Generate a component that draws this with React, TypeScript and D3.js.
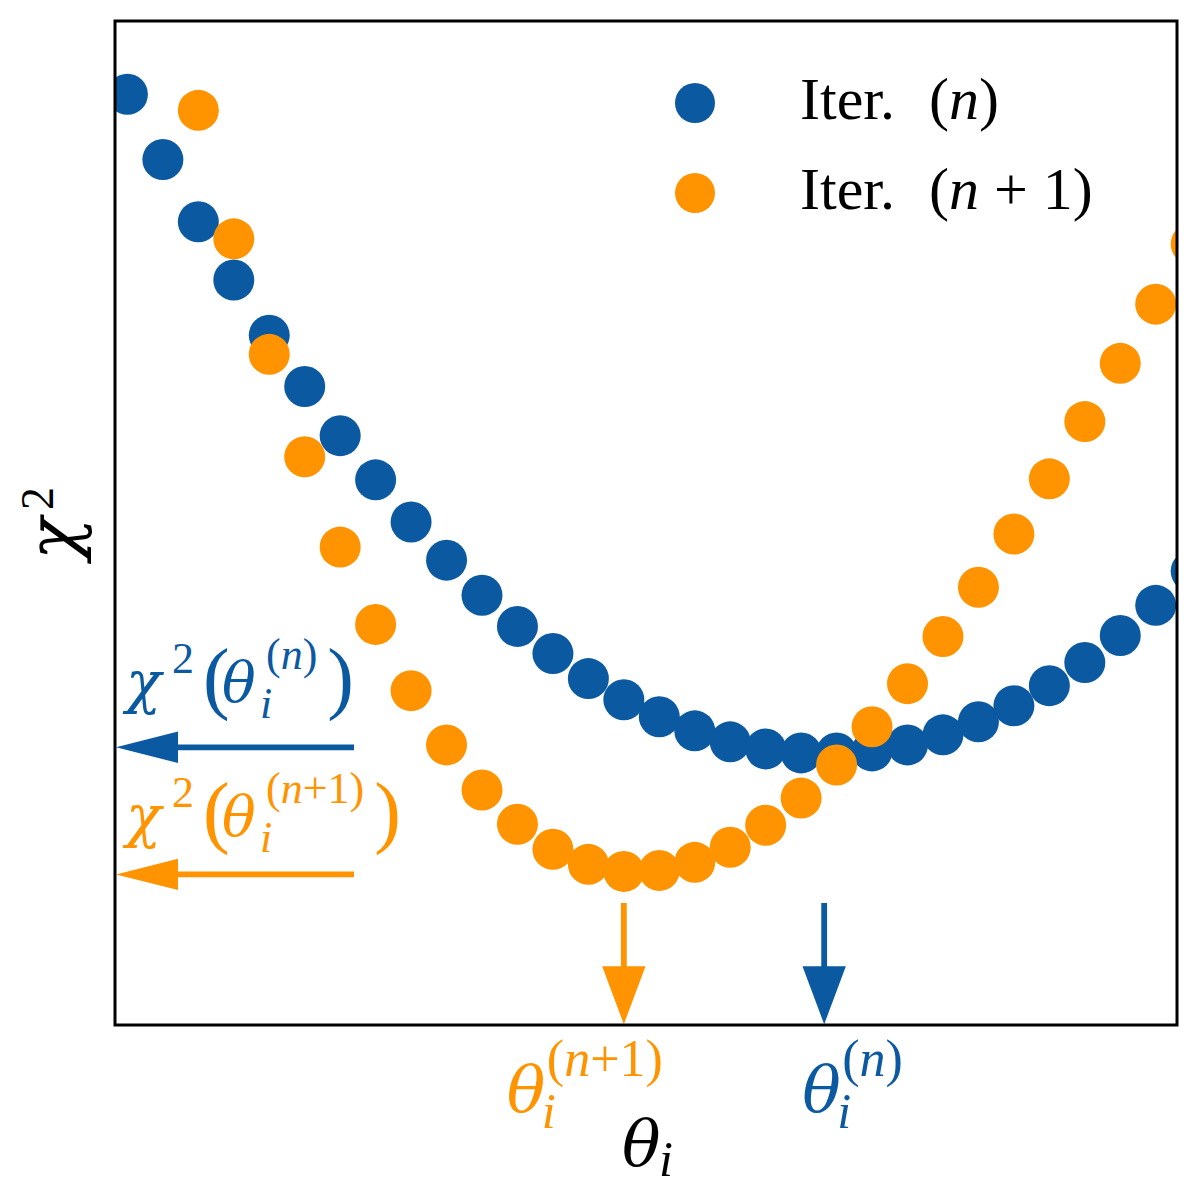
import * as d3 from 'd3';
import { useEffect, useRef } from 'react';

// grid of trial values for theta_i (index units)
const thetaIterN = [0, 1, 2, 3, 4, 5, 6, 7, 8, 9, 10, 11, 12, 13, 14, 15, 16, 17, 18, 19, 20, 21, 22, 23, 24, 25, 26, 27, 28, 29, 30];
const chi2IterN = [92.7, 86.2, 80.0, 74.2, 68.7, 63.6, 58.7, 54.3, 50.1, 46.3, 42.8, 39.7, 37.0, 34.5, 32.4, 30.7, 29.3, 28.2, 27.5, 27.1, 27.1, 27.3, 27.9, 28.9, 30.2, 31.8, 33.8, 36.1, 38.8, 41.8, 45.2];

const thetaIterNext = [2, 3, 4, 5, 6, 7, 8, 9, 10, 11, 12, 13, 14, 15, 16, 17, 18, 19, 20, 21, 22, 23, 24, 25, 26, 27, 28, 29, 30];
const chi2IterNext = [91.1, 78.3, 66.8, 56.6, 47.6, 39.9, 33.3, 27.9, 23.4, 20.0, 17.5, 16.0, 15.3, 15.4, 16.2, 17.7, 19.9, 22.6, 25.9, 29.7, 34.0, 38.7, 43.6, 48.9, 54.4, 60.1, 65.9, 71.8, 77.8];

// minima marked by arrows: [iter n, iter n+1]
const thetaMin = [19.65, 14.0];
const chi2Min = [27.66, 15.0];

const seriesLabels = ['n', 'n + 1'];
const supLabels = ['n', 'n+1'];

const BLUE = '#0b59a1';
const ORANGE = '#ff9400';
const FONT = '"Liberation Serif", "DejaVu Serif", serif';
const GREEK = '"DejaVu Serif", serif';

type Sel = d3.Selection<any, unknown, null, undefined>;
type Part = { t: string; x: number; y: number; size: number; italic?: boolean; greek?: boolean };

// one <text> per math expression, pieces placed as tspans
function mathText(g: Sel, color: string, parts: Part[]) {
  const t = g.append('text').attr('fill', color).attr('font-family', FONT);
  parts.forEach(p => {
    const s = t
      .append('tspan')
      .attr('x', p.x)
      .attr('y', p.y)
      .attr('font-size', p.size)
      .text(p.t);
    if (p.italic) s.attr('font-style', 'italic');
    if (p.greek) s.attr('font-family', GREEK);
  });
  return t;
}

// width of "(n...)" at a given size
function supWidth(g: Sel, body: string, size: number) {
  const t = g.append('text').attr('font-family', FONT).attr('font-size', size);
  t.append('tspan').text('(');
  t.append('tspan').attr('font-style', 'italic').text('n');
  t.append('tspan').text(body.slice(1) + ')');
  const w = (t.node() as SVGTextElement).getComputedTextLength();
  t.remove();
  return w;
}

function supParts(x: number, y: number, size: number, body: string): Part[] {
  return [
    { t: '(', x, y, size },
    { t: 'n', x: x + size * 0.333, y, size, italic: true },
    { t: body.slice(1) + ')', x: x + size * 0.833, y, size }
  ];
}

function arrowPath(x1: number, y1: number, x2: number, y2: number, headLen: number, headHalf: number, shaftHalf: number) {
  const L = Math.hypot(x2 - x1, y2 - y1);
  const ux = (x2 - x1) / L;
  const uy = (y2 - y1) / L;
  const px = -uy;
  const py = ux;
  const bx = x2 - ux * headLen;
  const by = y2 - uy * headLen;
  const pts: [number, number][] = [
    [x1 + px * shaftHalf, y1 + py * shaftHalf],
    [bx + px * shaftHalf, by + py * shaftHalf],
    [bx + px * headHalf, by + py * headHalf],
    [x2, y2],
    [bx - px * headHalf, by - py * headHalf],
    [bx - px * shaftHalf, by - py * shaftHalf],
    [x1 - px * shaftHalf, y1 - py * shaftHalf]
  ];
  return d3.line()(pts) + 'Z';
}

const App = () => {
  const ref = useRef<SVGSVGElement | null>(null);

  useEffect(() => {
    if (!ref.current) return;
    const svg = d3.select(ref.current);
    svg.selectAll('*').remove();

    const width = 1200;
    const height = 1200;
    const m = { left: 115, right: 1177, top: 21, bottom: 1025 };

    svg.attr('width', width).attr('height', height);

    const x = d3.scaleLinear().domain([-0.35, 29.6]).range([m.left, m.right]);
    const y = d3.scaleLinear().domain([0, 100]).range([m.bottom, m.top]);

    svg
      .append('defs')
      .append('clipPath')
      .attr('id', 'plot-clip')
      .append('rect')
      .attr('x', m.left)
      .attr('y', m.top)
      .attr('width', m.right - m.left)
      .attr('height', m.bottom - m.top);

    const dots = svg.append('g').attr('clip-path', 'url(#plot-clip)');
    const series = [
      { xs: thetaIterN, ys: chi2IterN, color: BLUE },
      { xs: thetaIterNext, ys: chi2IterNext, color: ORANGE }
    ];
    series.forEach(s => {
      dots
        .append('g')
        .selectAll('circle')
        .data(s.xs)
        .enter()
        .append('circle')
        .attr('cx', d => x(d))
        .attr('cy', (d, i) => y(s.ys[i]))
        .attr('r', 20.5)
        .attr('fill', s.color);
    });

    // arrows to the minima
    const colors = [BLUE, ORANGE];
    const tailTheta = 6.39;
    const tailChi2 = 12.15;
    thetaMin.forEach((t, i) => {
      svg
        .append('path')
        .attr('d', arrowPath(x(tailTheta), y(chi2Min[i]), m.left + 1, y(chi2Min[i]), 62, 15.7, 2.9))
        .attr('fill', colors[i]);
      svg
        .append('path')
        .attr('d', arrowPath(x(t), y(tailChi2), x(t), y(0) - 0.7, 58, 21.7, 2.9))
        .attr('fill', colors[i]);
    });

    // frame
    svg
      .append('rect')
      .attr('x', m.left)
      .attr('y', m.top)
      .attr('width', m.right - m.left)
      .attr('height', m.bottom - m.top)
      .attr('fill', 'none')
      .attr('stroke', '#000')
      .attr('stroke-width', 3);

    const g = svg.append('g');

    // chi^2(theta_i^(...)) labels above the horizontal arrows
    const chiOffsets = [45, 38];
    chi2Min.forEach((v, i) => {
      const x0 = 126;
      const y0 = y(v) - chiOffsets[i];
      const w = supWidth(g, supLabels[i], 44);
      mathText(g, colors[i], [
        { t: 'χ', x: x0, y: y0, size: 58, italic: true, greek: true },
        { t: '2', x: x0 + 46, y: y0 - 29, size: 44 },
        { t: '(', x: x0 + 77, y: y0 + 2, size: 80 },
        { t: 'θ', x: x0 + 96, y: y0, size: 56, italic: true, greek: true },
        { t: 'i', x: x0 + 134, y: y0 + 16, size: 44, italic: true },
        ...supParts(x0 + 140, y0 - 33, 44, supLabels[i]),
        { t: ')', x: x0 + 140 + w + 10, y: y0 + 2, size: 80 }
      ]);
    });

    // theta_i^(...) labels under the vertical arrows
    const thetaOffsets = [-22, -117];
    thetaMin.forEach((t, i) => {
      const x0 = x(t) + thetaOffsets[i];
      const y0 = 1111;
      mathText(g, colors[i], [
        { t: 'θ', x: x0, y: y0, size: 64, italic: true, greek: true },
        { t: 'i', x: x0 + 35, y: y0 + 17, size: 50, italic: true },
        ...supParts(x0 + 40, y0 - 35, 52, supLabels[i])
      ]);
    });

    // axis labels
    mathText(g, '#000', [
      { t: 'θ', x: 622, y: 1165, size: 64, italic: true, greek: true },
      { t: 'i', x: 659, y: 1176, size: 50, italic: true }
    ]);

    const yl = g.append('g').attr('transform', 'translate(77,518) rotate(-90)');
    mathText(yl, '#000', [
      { t: 'χ', x: -42, y: 0, size: 70, italic: true, greek: true },
      { t: '2', x: 8, y: -24, size: 46 }
    ]);

    // legend
    const legendY = [103, 193];
    seriesLabels.forEach((lab, i) => {
      g.append('circle').attr('cx', 695).attr('cy', legendY[i]).attr('r', 20).attr('fill', colors[i]);
      const t = g
        .append('text')
        .attr('x', 800)
        .attr('y', legendY[i] + 16)
        .attr('font-size', 60)
        .attr('font-family', FONT)
        .attr('fill', '#000')
        .style('white-space', 'pre');
      t.append('tspan').text('Iter.');
      t.append('tspan').attr('dx', 34).text('(');
      t.append('tspan').attr('font-style', 'italic').text('n');
      t.append('tspan').text(lab.slice(1) + ')');
    });
  }, []);

  return <svg ref={ref} style={{ position: 'absolute', left: 0, top: 0 }} />;
};

export default App;
